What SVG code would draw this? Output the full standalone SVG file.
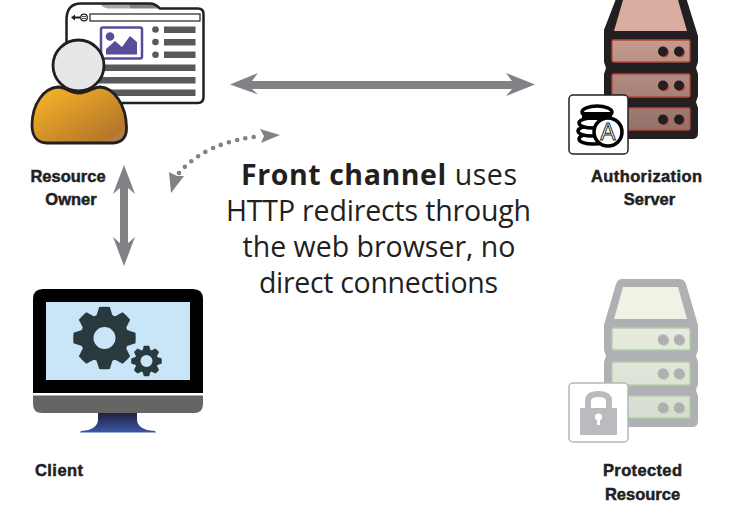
<svg xmlns="http://www.w3.org/2000/svg" width="737" height="519" viewBox="0 0 737 519">
<defs>
<linearGradient id="bodyG" x1="0" y1="0" x2="1" y2="1"><stop offset="0" stop-color="#fdb827"/><stop offset="0.85" stop-color="#b5772a"/><stop offset="1" stop-color="#a89070"/></linearGradient>
<linearGradient id="slotA" gradientUnits="userSpaceOnUse" x1="0" y1="0" x2="0" y2="135"><stop offset="0" stop-color="#dcaea0"/><stop offset="1" stop-color="#8f6f68"/></linearGradient>
<linearGradient id="slotP" gradientUnits="userSpaceOnUse" x1="0" y1="279" x2="0" y2="425"><stop offset="0" stop-color="#eef3e5"/><stop offset="1" stop-color="#d5dcd0"/></linearGradient>
<linearGradient id="standG" x1="0" y1="0" x2="0" y2="1"><stop offset="0" stop-color="#1f2240"/><stop offset="1" stop-color="#3c57a5"/></linearGradient>
<path id="tooth" d="M21,-8.500L31,-5.300Q31.500,0 31,5.300L21,8.500Z"/>
<g id="teeth"><use href="#tooth"/><use href="#tooth" transform="rotate(45)"/><use href="#tooth" transform="rotate(90)"/><use href="#tooth" transform="rotate(135)"/><use href="#tooth" transform="rotate(180)"/><use href="#tooth" transform="rotate(225)"/><use href="#tooth" transform="rotate(270)"/><use href="#tooth" transform="rotate(315)"/></g>
</defs>
<style>
.lbl{font-family:"Liberation Sans",Arial,sans-serif;font-weight:700;font-size:16.5px;fill:#231f20;stroke:#231f20;stroke-width:0.5px;text-anchor:middle}
.main{font-family:"Open Sans","Noto Sans",sans-serif;font-size:28.5px;fill:#231f20;text-anchor:middle}
.main tspan{font-weight:700}
.bar{fill:#58595b}
.arrow{fill:#808285}
.slotA{fill:url(#slotA);stroke:#b5483a;stroke-width:1.3}
.slotP{fill:url(#slotP);stroke:#b3cfa4;stroke-width:1.3}
</style>

<g id="connectors">
<path class="arrow" d="M230,84.500L258,73L252,81H512L506,73L535,84.500L506,96L512,89H252L258,94.500Z"/>
<path class="arrow" d="M124,165L135,194L128,188V243L135,237L124,266L113,237L120,243V188L113,194Z"/>
<path d="M179,173Q207,141 262,136" fill="none" stroke="#808285" stroke-width="4.600" stroke-linecap="round" stroke-dasharray="0 8.500"/>
<path class="arrow" d="M280,135L260,129L264,136L261,143Z"/>
<path class="arrow" d="M171,193L169,172L177,176L184,176Z"/>
</g>

<g id="resource-owner">
<path d="M66.500,20Q66.500,3.500 81,3.500H100Q104,8.500 108,8.500H203.500V97Q203.500,103 198,103H72Q66.500,103 66.500,97Z" fill="#fff"/>
<path d="M100,3.500H130V8.500H108Q103,8 100,3.500Z" fill="#a7a9ac"/>
<path d="M130,3.500H150Q155,3.500 160,8.500H130Z" fill="#808285"/>
<path d="M66.500,20Q66.500,3.500 81,3.500H150Q155,3.500 160,8.500H198Q203.500,8.500 203.500,14V97Q203.500,103 198,103H72Q66.500,103 66.500,97Z" fill="none" stroke="#231f20" stroke-width="2.500"/>
<path d="M71,17.500L75,14.500V16.500H80V18.500H75V20.500Z" fill="#231f20"/>
<circle cx="84" cy="17.500" r="3.300" fill="#fff" stroke="#231f20" stroke-width="1.300"/>
<path d="M82,16.500H86M82,18.500H86" stroke="#231f20" stroke-width="0.800"/>
<rect x="90" y="14" width="110" height="7" fill="#fff" stroke="#231f20" stroke-width="1.200"/>
<rect x="101" y="27.500" width="41" height="31" rx="2" fill="#fff" stroke="#5b4b9b" stroke-width="2.500"/>
<circle cx="110" cy="36.500" r="4.300" fill="#5b4b9b"/>
<path d="M106,54.500V49L115,41L122,47L130,36L137,42V54.500Z" fill="#5b4b9b"/>
<circle cx="155.500" cy="29.500" r="3.300" class="bar"/><rect class="bar" x="164" y="26.500" width="31.500" height="6.500"/>
<circle cx="155.500" cy="42" r="3.300" class="bar"/><rect class="bar" x="164" y="39" width="31.500" height="6.500"/>
<circle cx="155.500" cy="54.800" r="3.300" class="bar"/><rect class="bar" x="164" y="51.500" width="31.500" height="6.500"/>
<rect class="bar" x="98" y="64.500" width="97.500" height="6.500"/>
<rect class="bar" x="98" y="77" width="97.500" height="6.500"/>
<rect class="bar" x="98" y="89.500" width="97.500" height="6.500"/>
<path d="M32,125C32,104 44,88 58,87C66,87 70,93 79,93C88,93 93,87 100,87C115,88 126,106 126.500,127C127,137 122,143 112,143H47C37,143 32,136 32,125Z" fill="url(#bodyG)" stroke="#231f20" stroke-width="2.800"/>
<circle cx="78.500" cy="65.500" r="25.500" fill="#e6e7e8" stroke="#231f20" stroke-width="2.800"/>
<text class="lbl" x="68" y="182">Resource</text>
<text class="lbl" x="71" y="205">Owner</text>
</g>

<g id="authorization-server">
<g id="auth-rack">
<path d="M619,-9L604,30V62L606,68L604,74V96L606,102L604,108V133Q604,139 610,139H692Q698,139 698,133V108L696,102L698,96V74L696,68L698,62V36L684,-9Z" fill="#231f20"/>
<path d="M623,0H678L687,31H614Z" fill="#d9aea1"/>
<rect class="slotA" x="612" y="40" width="78" height="22" rx="1.500"/>
<rect class="slotA" x="612" y="74" width="78" height="23" rx="1.500"/>
<rect class="slotA" x="612" y="108" width="78" height="22" rx="1.500"/>
<g fill="#b5483a"><circle cx="664" cy="52.500" r="5"/><circle cx="680" cy="52.500" r="5"/><circle cx="664" cy="86.500" r="5"/><circle cx="680" cy="86.500" r="5"/><circle cx="664" cy="120.500" r="5"/><circle cx="680" cy="120.500" r="5"/></g>
<g fill="#231f20"><circle cx="663" cy="51.500" r="5"/><circle cx="679" cy="51.500" r="5"/><circle cx="663" cy="85.500" r="5"/><circle cx="679" cy="85.500" r="5"/><circle cx="663" cy="119.500" r="5"/><circle cx="679" cy="119.500" r="5"/></g>
</g>
<rect x="569" y="95" width="59" height="59" rx="4" fill="#fff" stroke="#231f20" stroke-width="1.500"/>
<g fill="#fff" stroke="#000" stroke-width="3.500">
<ellipse cx="593" cy="139" rx="14" ry="5"/>
<ellipse cx="592" cy="131" rx="14" ry="5"/>
<ellipse cx="593" cy="123" rx="14" ry="5"/>
<ellipse cx="597" cy="112" rx="15" ry="6"/>
</g>
<rect x="582" y="112" width="30" height="8" fill="#000"/>
<circle cx="608" cy="132" r="14" fill="#fff" stroke="#000" stroke-width="3.500"/>
<text x="608" y="140" font-family="'Liberation Sans',Arial,sans-serif" font-size="23" fill="#fff" stroke="#231f20" stroke-width="0.900" text-anchor="middle">A</text>
<text class="lbl" x="646.500" y="182" textLength="111">Authorization</text>
<text class="lbl" x="649.500" y="205">Server</text>
</g>

<g id="client">
<path d="M33,393V299Q33,289 43,289H193Q203,289 203,299V393Z" fill="#000"/>
<rect x="46" y="302" width="144" height="78" fill="#c9e6f8"/>
<path d="M33,395.500H203V404Q203,413 194,413H42Q33,413 33,404Z" fill="#666563"/>
<path d="M98,413H137V419Q137,430 155,431L156,432.500H80L81,431Q98,430 98,419Z" fill="url(#standG)"/>
<g fill="#29393e">
<circle cx="104.500" cy="338" r="17.500" fill="none" stroke="#29393e" stroke-width="13"/>
<use href="#teeth" transform="translate(104.500 338) rotate(22.500) rotate(-22.500)"/>
<circle cx="146.500" cy="361" r="8.750" fill="none" stroke="#29393e" stroke-width="5.500"/>
<use href="#teeth" transform="translate(146.500 361) scale(0.49)"/>
</g>
<text class="lbl" x="59" y="476" textLength="48">Client</text>
</g>

<g id="protected-resource">
<g id="prot-rack">
<path d="M622,279H679Q684,279 686,284L698,325V350L696,356L698,362V384L696,390L698,396V421Q698,427 692,427H610Q604,427 604,421V396L606,390L604,384V362L606,356L604,350V325L616,284Q618,279 622,279Z" fill="#aeb0b3"/>
<path d="M623,287H678L687,319H614Z" fill="#eef3e5"/>
<rect class="slotP" x="612" y="328" width="78" height="22" rx="1.500"/>
<rect class="slotP" x="612" y="362" width="78" height="23" rx="1.500"/>
<rect class="slotP" x="612" y="396" width="78" height="22" rx="1.500"/>
<g fill="#b3cfa4"><circle cx="664" cy="340.500" r="5.300"/><circle cx="680" cy="340.500" r="5.300"/><circle cx="664" cy="374.500" r="5.300"/><circle cx="680" cy="374.500" r="5.300"/><circle cx="664" cy="408.500" r="5.300"/><circle cx="680" cy="408.500" r="5.300"/></g>
<g fill="#aeb0b3"><circle cx="663" cy="339.500" r="5.300"/><circle cx="679" cy="339.500" r="5.300"/><circle cx="663" cy="373.500" r="5.300"/><circle cx="679" cy="373.500" r="5.300"/><circle cx="663" cy="407.500" r="5.300"/><circle cx="679" cy="407.500" r="5.300"/></g>
</g>
<rect x="569" y="383" width="59" height="59" rx="4" fill="#fff" stroke="#b5b7ba" stroke-width="1.500"/>
<path d="M588,410V401Q588,394 598.500,394Q609,394 609,401V410" fill="none" stroke="#b9bbbe" stroke-width="6"/>
<rect x="580" y="408" width="37" height="27" fill="#b9bbbe"/>
<circle cx="598.500" cy="417" r="3.500" fill="#fff"/>
<rect x="597" y="418" width="3" height="7" fill="#fff"/>
<text class="lbl" x="642.500" y="476" textLength="79">Protected</text>
<text class="lbl" x="642.500" y="500">Resource</text>
</g>

<g id="caption">
<text class="main" x="379" y="185" textLength="276"><tspan>Front channel</tspan> uses</text>
<text class="main" x="378.500" y="221" textLength="305">HTTP redirects through</text>
<text class="main" x="379" y="257" textLength="273">the web browser, no</text>
<text class="main" x="378.500" y="293" textLength="239">direct connections</text>
</g>
</svg>
